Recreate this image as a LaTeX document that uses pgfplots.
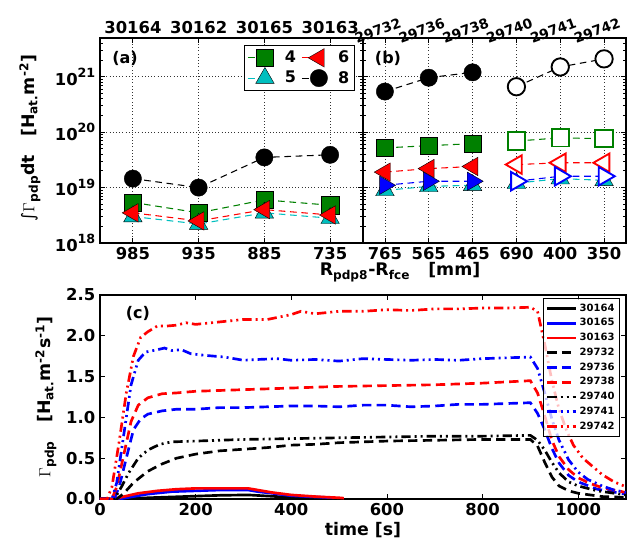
\documentclass[border=0pt]{standalone}
\usepackage{pgfplots}
\pgfplotsset{compat=1.18}
\usepackage{fontspec}
\setmainfont{DejaVu Sans}
\definecolor{mg}{rgb}{0,0.5,0}
\definecolor{mc}{rgb}{0,0.75,0.75}
\definecolor{mr}{rgb}{1,0,0}
\definecolor{mb}{rgb}{0,0,1}
\newcommand\tp[1]{10\raisebox{0.85ex}{\fontsize{9.5}{10}\selectfont\bfseries #1}}
\newcommand\fs{\fontsize{12.3}{14}\selectfont\bfseries}
\newcommand\fl{\fontsize{13}{15}\selectfont\bfseries}
\newcommand\fg{\fontsize{12}{14}\selectfont\bfseries}
\tikzset{
  mydl/.style={dash pattern=on 5pt off 3.5pt, line width=0.8pt},
  myfm/.style={mark options={solid, fill=#1, draw=black, line width=0.3pt}},
  myfmr/.style={mark options={solid, fill=#1, draw=black, line width=0.3pt, rotate=90}},
  myfml/.style={mark options={solid, fill=#1, draw=black, line width=0.3pt, rotate=-90}},
  myom/.style={mark options={solid, fill=white, draw=#1, line width=1.4pt}},
  myomr/.style={mark options={solid, fill=white, draw=#1, line width=1.4pt, rotate=90}},
  myoml/.style={mark options={solid, fill=white, draw=#1, line width=1.4pt, rotate=-90}},
  mycd/.style={dash pattern=on 7pt off 4pt, line width=2pt},
  mycdd/.style={dash pattern=on 7pt off 3pt on 1.5pt off 3pt on 1.5pt off 3pt, line width=2pt},
}
\begin{document}
\begin{tikzpicture}
\path[use as bounding box] (0,0) rectangle (482.25pt,-409.5pt);
% ---------------- panel (a)
\begin{axis}[scale only axis, axis line style={line width=0.9pt},
  tick style={black, line width=0.6pt}, major tick length=4pt, minor tick length=2pt,
  tick label style={font=\fs},
  ymode=log, ymin=1e18, ymax=5e21,
  ytick={1e18,1e19,1e20,1e21},
  minor ytick={2e18,3e18,4e18,5e18,6e18,7e18,8e18,9e18,2e19,3e19,4e19,5e19,6e19,7e19,8e19,9e19,2e20,3e20,4e20,5e20,6e20,7e20,8e20,9e20,2e21,3e21,4e21},
  grid=major, major grid style={dotted, black!80, line width=0.6pt},
  height=153.75pt, width=197.25pt, anchor=north west, at={(75pt,-28.5pt)},
  xmin=-0.5, xmax=3.5, xtick={0,1,2,3}, xticklabels={985,935,885,735},
  yticklabels={\tp{18},\tp{19},\tp{20},\tp{21}},
  legend columns=2,
  legend style={at={(0.97,0.965)}, anchor=north east, font=\fg, draw=black, line width=0.6pt,
    inner sep=2pt,
    /tikz/every odd column/.append style={column sep=6pt},
    /tikz/every even column/.append style={column sep=2pt}},
  legend image code/.code={\draw[#1, mark repeat=2, mark phase=2] plot coordinates {(0cm,0cm) (0.45cm,0cm) (0.46cm,0cm)};},
]
\addplot[mg, mydl, mark=square*, mark size=6.5pt, myfm=mg, forget plot] coordinates {(0,5.4e18) (1,3.5e18) (2,6.0e18) (3,4.8e18)};
\addplot[mc, mydl, mark=triangle*, mark size=8pt, myfm=mc, forget plot] coordinates {(0,3.0e18) (1,2.2e18) (2,3.5e18) (3,2.8e18)};
\addplot[mr, mydl, mark=triangle*, mark size=8pt, myfmr=mr, forget plot] coordinates {(0,3.5e18) (1,2.5e18) (2,4.0e18) (3,3.2e18)};
\addplot[black, mydl, mark=*, mark size=6.5pt, myfm=black, forget plot] coordinates {(0,1.45e19) (1,1.0e19) (2,3.5e19) (3,3.9e19)};
\addlegendimage{mg, mydl, mark=square*, mark size=6.5pt, myfm=mg}
\addlegendentry{4}
\addlegendimage{mr, mydl, mark=triangle*, mark size=8pt, myfmr=mr}
\addlegendentry{6}
\addlegendimage{mc, mydl, mark=triangle*, mark size=8pt, myfm=mc}
\addlegendentry{5}
\addlegendimage{black, mydl, mark=*, mark size=6.5pt, myfm=black}
\addlegendentry{8}
\node[font=\fg, anchor=center] at (rel axis cs:0.095,0.9) {(a)};
\end{axis}
\begin{axis}[scale only axis, axis line style={line width=0.9pt}, tick label style={font=\fs},
  at={(75pt,-28.5pt)}, anchor=north west, height=153.75pt, width=197.25pt,
  xmin=-0.5, xmax=3.5, ymin=0, ymax=1, axis x line*=top, axis y line=none,
  xtick={0,1,2,3}, xticklabels={30164,30162,30165,30163}, major tick length=0pt]
\addplot[draw=none] coordinates {(0,0.5)};
\end{axis}
% ---------------- panel (b)
\begin{axis}[scale only axis, axis line style={line width=0.9pt},
  tick style={black, line width=0.6pt}, major tick length=4pt, minor tick length=2pt,
  tick label style={font=\fs},
  ymode=log, ymin=1e18, ymax=5e21,
  ytick={1e18,1e19,1e20,1e21},
  minor ytick={2e18,3e18,4e18,5e18,6e18,7e18,8e18,9e18,2e19,3e19,4e19,5e19,6e19,7e19,8e19,9e19,2e20,3e20,4e20,5e20,6e20,7e20,8e20,9e20,2e21,3e21,4e21},
  grid=major, major grid style={dotted, black!80, line width=0.6pt},
  height=153.75pt, width=197.25pt, anchor=north west, at={(272.25pt,-28.5pt)},
  xmin=-0.5, xmax=5.5, xtick={0,1,2,3,4,5}, xticklabels={765,565,465,690,400,350},
  yticklabels={}]
\addplot[mg, mydl, mark=square*, mark size=6.5pt, myfm=mg] coordinates {(0,5.2e19) (1,5.7e19) (2,6.2e19)};
\addplot[mg, mydl, mark=square*, mark size=6.5pt, myom=mg] coordinates {(3,6.9e19) (4,7.9e19) (5,7.6e19)};
\addplot[mc, mydl, mark=triangle*, mark size=8pt, myfm=mc] coordinates {(0,8.9e18) (1,1.05e19) (2,1.1e19)};
\addplot[mc, mydl, mark=triangle*, mark size=8pt, myfm=mc] coordinates {(3,1.2e19) (4,1.45e19) (5,1.35e19)};
\addplot[mr, mydl, mark=triangle*, mark size=8pt, myfmr=mr] coordinates {(0,1.9e19) (1,2.2e19) (2,2.4e19)};
\addplot[mr, mydl, mark=triangle*, mark size=8pt, myomr=mr] coordinates {(3,2.6e19) (4,2.8e19) (5,2.8e19)};
\addplot[mb, mydl, mark=triangle*, mark size=8pt, myfml=mb] coordinates {(0,1.1e19) (1,1.3e19) (2,1.3e19)};
\addplot[mb, mydl, mark=triangle*, mark size=8pt, myoml=mb] coordinates {(3,1.3e19) (4,1.6e19) (5,1.6e19)};
\addplot[black, mydl, mark=*, mark size=6.5pt, myfm=black] coordinates {(0,5.4e20) (1,9.6e20) (2,1.2e21)};
\addplot[black, mydl, mark=*, mark size=6.5pt, myom=black] coordinates {(3,6.6e20) (4,1.5e21) (5,2.1e21)};
\node[font=\fg, anchor=center] at (rel axis cs:0.095,0.9) {(b)};
\end{axis}
\begin{axis}[scale only axis, axis line style={line width=0.9pt}, tick label style={font=\fontsize{10.3}{12}\selectfont\bfseries},
  at={(272.25pt,-28.5pt)}, anchor=north west, height=153.75pt, width=197.25pt,
  xmin=-0.5, xmax=5.5, ymin=0, ymax=1, axis x line*=top, axis y line=none,
  xtick={0,1,2,3,4,5}, xticklabels={29732,29736,29738,29740,29741,29742}, major tick length=0pt,
  xticklabel style={rotate=20, anchor=south, xshift=-3pt, yshift=2pt, inner sep=1pt}]
\addplot[draw=none] coordinates {(0,0.5)};
\end{axis}
\node[font=\fl, rotate=90] at (22.5pt,-103.5pt) {{\mdseries ∫}$\Gamma$\textsubscript{pdp}dt\ \ \ [H\textsubscript{at.}m\textsuperscript{-2}]};
\node[font=\fl] at (300pt,-204pt) {R\textsubscript{pdp8}-R\textsubscript{fce}\ \ \ [mm]};
% ---------------- panel (c)
\begin{axis}[scale only axis, axis line style={line width=0.9pt},
  tick style={black, line width=0.6pt}, major tick length=4pt,
  tick label style={font=\fs},
  at={(75pt,-221.25pt)}, anchor=north west, width=394.5pt, height=153pt,
  xmin=0, xmax=1100, ymin=0, ymax=2.5,
  xtick={0,200,400,600,800,1000}, xticklabels={0,200,400,600,800,1000},
  ytick={0,0.5,1,1.5,2,2.5}, yticklabels={0.0,0.5,1.0,1.5,2.0,2.5},
  xlabel={time [s]}, xlabel style={font=\fl, yshift=2pt},
  legend style={at={(0.989,0.985)}, anchor=north east, font=\fontsize{7.5}{9}\selectfont\bfseries,
    draw=black, line width=0.6pt, fill=white, fill opacity=0.75, text opacity=1, inner sep=2pt},
  legend cell align=right,
  legend image code/.code={\draw[#1] (0cm,0cm) -- (0.75cm,0cm);},
]
\addplot[black, line width=2pt] coordinates {(0,0) (50,0) (100,0.015) (150,0.025) (200,0.035) (250,0.045) (310,0.05) (340,0.04) (400,0.02) (450,0.01) (500,0.005)};
\addlegendentry{30164}
\addplot[mb, line width=2pt] coordinates {(0,0) (40,0) (70,0.03) (100,0.06) (150,0.09) (200,0.1) (250,0.11) (310,0.11) (330,0.09) (360,0.07) (400,0.04) (450,0.025) (490,0.015)};
\addlegendentry{30165}
\addplot[mr, line width=2pt] coordinates {(0,0) (30,0) (50,0.03) (80,0.07) (120,0.1) (160,0.12) (200,0.13) (250,0.13) (310,0.13) (330,0.11) (360,0.08) (400,0.05) (450,0.03) (500,0.015) (510,0.01)};
\addlegendentry{30163}
\addplot[black, mycd] coordinates {(0,0) (35,0) (50,0.07) (70,0.2) (100,0.34) (130,0.43) (160,0.5) (200,0.55) (250,0.59) (300,0.61) (350,0.63) (400,0.66) (450,0.67) (500,0.69) (600,0.71) (700,0.72) (800,0.73) (900,0.73) (915,0.65) (930,0.45) (945,0.27) (960,0.16) (980,0.1) (1000,0.07) (1050,0.03) (1100,0.02)};
\addlegendentry{29732}
\addplot[mb, mycd] coordinates {(0,0) (30,0) (40,0.15) (55,0.5) (70,0.85) (85,0.98) (100,1.04) (130,1.08) (160,1.1) (200,1.1) (250,1.12) (300,1.12) (350,1.13) (400,1.14) (450,1.14) (500,1.13) (550,1.15) (600,1.15) (650,1.13) (700,1.14) (750,1.16) (800,1.16) (850,1.17) (900,1.18) (915,1.05) (930,0.85) (945,0.62) (960,0.44) (980,0.29) (1000,0.21) (1040,0.12) (1100,0.06)};
\addlegendentry{29736}
\addplot[mr, mycd] coordinates {(0,0) (25,0) (35,0.15) (50,0.55) (65,0.95) (80,1.15) (100,1.24) (130,1.29) (160,1.3) (200,1.32) (300,1.34) (400,1.36) (500,1.38) (600,1.39) (700,1.4) (800,1.42) (900,1.45) (915,1.3) (930,1.02) (945,0.72) (960,0.52) (980,0.36) (1000,0.26) (1025,0.19) (1050,0.14) (1100,0.08)};
\addlegendentry{29738}
\addplot[black, mycdd] coordinates {(0,0) (30,0) (45,0.15) (60,0.32) (80,0.5) (100,0.6) (125,0.67) (150,0.7) (200,0.71) (250,0.72) (300,0.73) (400,0.74) (500,0.75) (600,0.76) (700,0.77) (800,0.77) (900,0.78) (915,0.72) (930,0.6) (945,0.45) (960,0.32) (980,0.21) (1000,0.16) (1040,0.1) (1100,0.05)};
\addlegendentry{29740}
\addplot[mb, mycdd] coordinates {(0,0) (25,0) (35,0.2) (50,0.8) (65,1.4) (80,1.7) (95,1.8) (120,1.83) (135,1.85) (150,1.82) (170,1.83) (190,1.78) (220,1.76) (260,1.74) (300,1.7) (330,1.71) (370,1.72) (400,1.7) (450,1.71) (500,1.69) (550,1.72) (600,1.71) (650,1.7) (700,1.71) (750,1.7) (800,1.72) (850,1.73) (900,1.74) (915,1.6) (930,1.3) (945,0.98) (960,0.72) (980,0.48) (1000,0.33) (1020,0.24) (1050,0.16) (1075,0.11) (1100,0.08)};
\addlegendentry{29741}
\addplot[mr, mycdd] coordinates {(0,0) (15,0) (25,0.15) (40,0.7) (55,1.3) (70,1.75) (85,1.98) (100,2.05) (120,2.12) (140,2.12) (160,2.13) (180,2.16) (200,2.14) (250,2.17) (300,2.2) (350,2.2) (400,2.26) (420,2.3) (450,2.27) (500,2.3) (550,2.3) (600,2.32) (650,2.31) (700,2.33) (750,2.33) (800,2.34) (850,2.34) (900,2.35) (915,2.3) (930,1.9) (945,1.45) (960,1.1) (975,0.85) (990,0.66) (1010,0.5) (1030,0.4) (1050,0.3) (1075,0.21) (1100,0.15)};
\addlegendentry{29742}
\node[font=\fg, anchor=center] at (rel axis cs:0.072,0.907) {(c)};
\node[font=\fs, anchor=south west, inner sep=0pt] at (rel axis cs:0,1.015) {1e18};
\end{axis}
\node[font=\fl, rotate=90] at (34.5pt,-297.75pt) {$\Gamma$\textsubscript{pdp}\ \ \ [H\textsubscript{at.}m\textsuperscript{-2}s\textsuperscript{-1}]};
\end{tikzpicture}
\end{document}
